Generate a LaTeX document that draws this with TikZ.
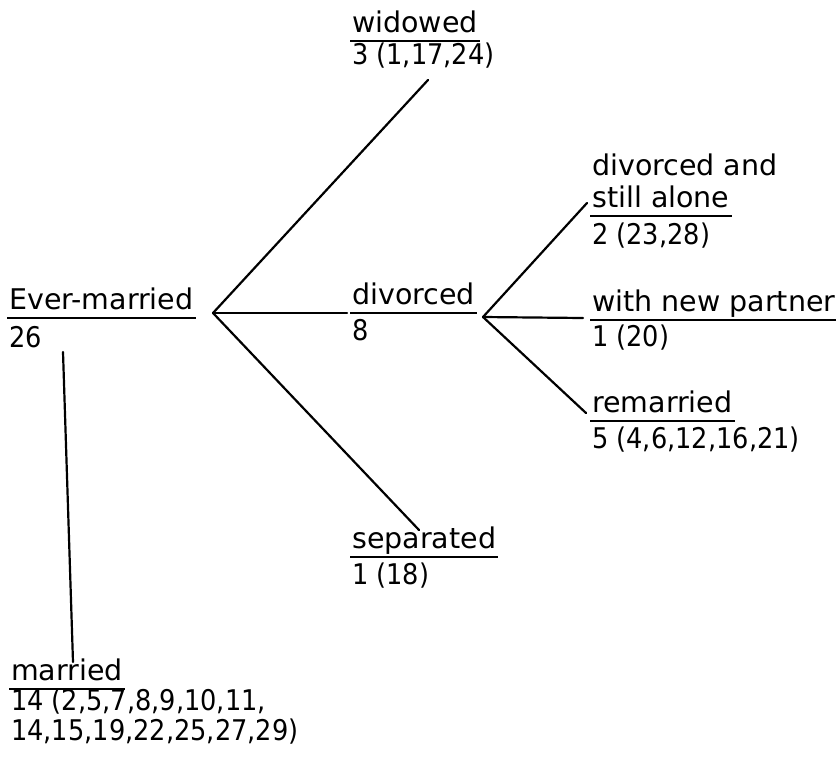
\documentclass[tikz,border=0pt]{standalone}
\usepackage{fontspec}
\setmainfont{DejaVu Sans}
\newfontfamily\countfamily[FakeStretch=0.9]{DejaVu Sans}
\newcommand{\labfont}{\fontsize{28.5}{32}\selectfont}
\newcommand{\cntfont}{\countfamily\fontsize{28.5}{32}\selectfont}
\begin{document}
\begin{tikzpicture}[x=1pt,y=-1pt,
  lab/.style={font=\labfont, inner sep=0pt, anchor=base west},
  cnt/.style={font=\cntfont, inner sep=0pt, anchor=base west},
  conn/.style={line width=2.2pt, line cap=round},
  baseline rule/.style={line width=1.9pt}]
\useasboundingbox (0,0) rectangle (836,764);

% category labels with their counts
\node[lab] (evm)  at (9,309)   {Ever-married};
\node[cnt] (evmn) at (9,347)   {26};
\node[lab] (wid)  at (352,32)  {widowed};
\node[cnt] (widn) at (352,64)  {3 (1,17,24)};
\node[lab] (div)  at (352,304) {divorced};
\node[cnt] (divn) at (352,340) {8};
\node[lab] (sep)  at (352,548) {separated};
\node[cnt] (sepn) at (352,584) {1 (18)};
\node[lab] (dal1) at (592,175) {divorced and};
\node[lab] (dal)  at (592,207) {still alone};
\node[cnt] (daln) at (592,244) {2 (23,28)};
\node[lab] (wnp)  at (592,311) {with new partner};
\node[cnt] (wnpn) at (592,346) {1 (20)};
\node[lab] (rem)  at (592,412) {remarried};
\node[cnt] (remn) at (592,448) {5 (4,6,12,16,21)};
\node[lab] (mar)  at (11,680)  {married};
\node[cnt] (marn) at (11,710)  {14 (2,5,7,8,9,10,11,};
\node[cnt] (marm) at (11,740)  {14,15,19,22,25,27,29)};

% rules under the category names
\foreach \n in {evm,wid,div,sep,dal,wnp,rem,mar}
  \draw[baseline rule] ([xshift=-2pt,yshift=-9pt]\n.base west) -- ([xshift=2pt,yshift=-9pt]\n.base east);

% branch points and free ends of the connectors
\coordinate (b1) at (213,313);
\coordinate (b2) at (483,317);
\coordinate (e-wid) at (428,80);
\coordinate (e-div) at (347,313);
\coordinate (e-sep) at (419,530);
\coordinate (e-dal) at (587,203);
\coordinate (e-wnp) at (583,318);
\coordinate (e-rem) at (586,413);
\coordinate (e-top) at (63,352);
\coordinate (e-mar) at (73,662);

\draw[conn] (b1) -- (e-wid);
\draw[conn] (b1) -- (e-div);
\draw[conn] (b1) -- (e-sep);
\draw[conn] (b2) -- (e-dal);
\draw[conn] (b2) -- (e-wnp);
\draw[conn] (b2) -- (e-rem);
\draw[conn] (e-top) -- (e-mar);
\end{tikzpicture}
\end{document}
